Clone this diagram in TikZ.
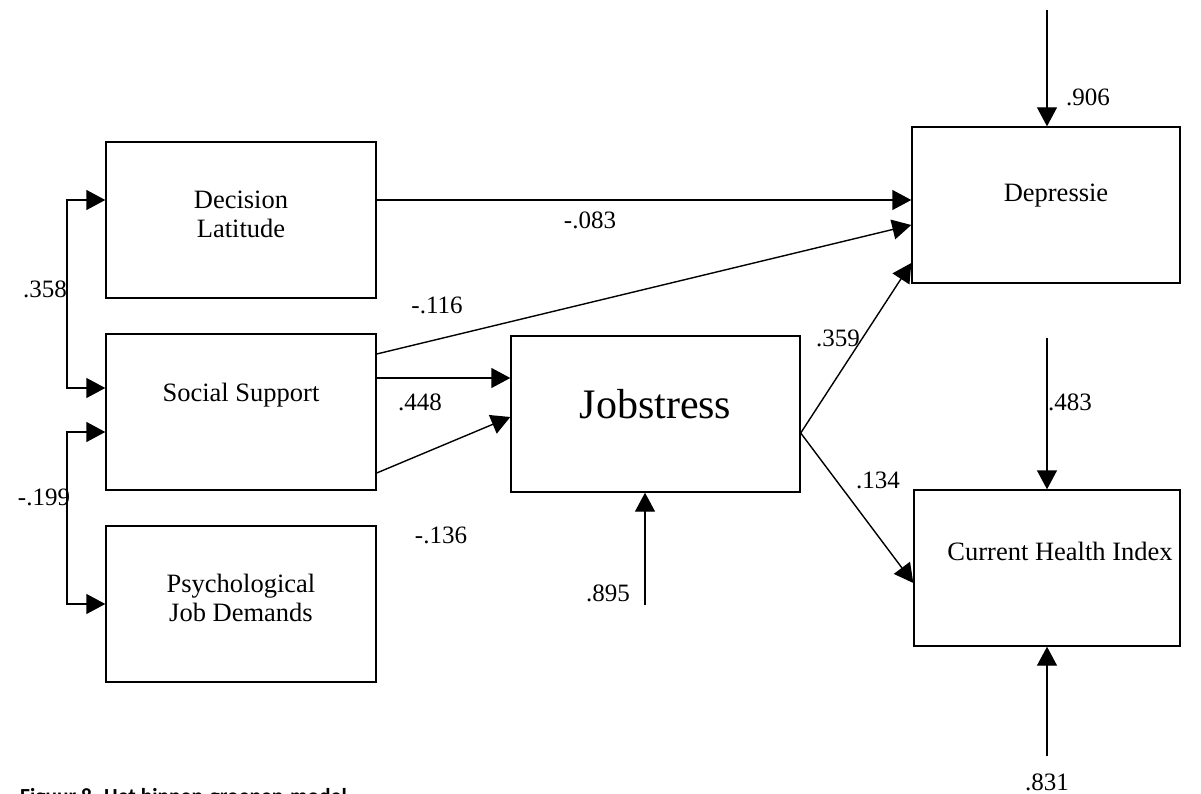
\documentclass[tikz,border=0pt]{standalone}
\usepackage{fontspec}
\setmainfont{Liberation Serif}
\newfontfamily\capfont{Carlito}
\usetikzlibrary{arrows.meta,calc}

\tikzset{
  box/.style={draw, line width=1.4pt, minimum width=270pt, minimum height=156pt, inner sep=0pt},
  boxtext/.style={font=\fontsize{26.5}{29}\selectfont, align=center},
  coef/.style={font=\fontsize{25}{28}\selectfont, inner sep=0pt},
  path/.style={line width=1.4pt, -{Triangle[length=19pt,width=20pt]}},
  corr/.style={line width=1.4pt, {Triangle[length=19pt,width=20pt]}-{Triangle[length=19pt,width=20pt]}},
}

\begin{document}
\begin{tikzpicture}[x=1pt, y=-1pt]
\useasboundingbox (0,0) rectangle (1201,794);

% exogenous variables
\node[box, label={[boxtext, yshift=6pt]center:Decision\\Latitude}] (dl) at (241,220) {};
\node[box, label={[boxtext, yshift=17pt]center:Social Support}] (ss) at (241,412) {};
\node[box, label={[boxtext, yshift=6pt]center:Psychological\\Job Demands}] (pjd) at (241,604) {};

% mediator
\node[box, minimum width=289pt, label={[font=\fontsize{42}{48}\selectfont, yshift=10pt]center:Jobstress}] (js) at (655.5,414) {};

% outcomes
\node[box, minimum width=268pt, label={[boxtext, xshift=10pt, yshift=9pt]center:Depressie}] (dep) at (1046,205) {};
\node[box, minimum width=266pt, label={[boxtext, xshift=13pt, yshift=17pt]center:Current Health Index}] (chi) at (1047,568) {};

% correlations between exogenous variables
\coordinate (k1) at (67,300);
\coordinate (k2) at (67,520);
\draw[corr] ([yshift=20pt]dl.west) -| (k1) |- ([yshift=24pt]ss.west);
\draw[corr] ([yshift=-20pt]ss.west) -| (k2) |- (pjd.west);
\node[coef] (c358) at (45,289) {.358};
\node[coef] (c199) at (44,497) {-.199};

% structural paths
\draw[path] ([yshift=20pt]dl.east) -- ([yshift=20pt]dl.east -| dep.west);
\draw[path] ([yshift=58pt]ss.east) -- ([yshift=-20pt]dep.west);
\draw[path] ([yshift=34pt]ss.east) -- ([yshift=34pt]ss.east -| js.west);
\draw[path] ([yshift=-61pt]ss.east) -- ([yshift=-3pt]js.west);
\draw[path] ([yshift=-19pt]js.east) -- ([yshift=-58pt]dep.west);
\draw[path] ([yshift=-19pt]js.east) -- ([yshift=-15pt]chi.west);

\node[coef] (c083) at (590,220) {-.083};
\node[coef] (c116) at (437,305) {-.116};
\node[coef] (c448) at (420,402) {.448};
\node[coef] (c136) at (441,535) {-.136};
\node[coef] (c359) at (838,338) {.359};
\node[coef] (c134) at (878,480) {.134};

% residual terms
\coordinate (e1) at (1047,10);
\coordinate (e2) at (1047,338);
\coordinate (e3) at (1047,756);
\coordinate (e4) at (645,605);
\draw[path] (e1) -- (e1 |- dep.north);
\draw[path] (e2) -- (e2 |- chi.north);
\draw[path] (e3) -- (e3 |- chi.south);
\draw[path] (e4) -- (e4 |- js.south);

\node[coef] (c906) at (1088,97) {.906};
\node[coef] (c483) at (1070,402) {.483};
\node[coef] (c831) at (1047,782) {.831};
\node[coef] (c895) at (608,593) {.895};

% caption
\node[anchor=base west, inner sep=0pt, font=\capfont\bfseries\fontsize{21.5}{25}\selectfont] (cap) at (20,803) {Figuur 8. Het binnen-groepen-model};
\end{tikzpicture}
\end{document}
